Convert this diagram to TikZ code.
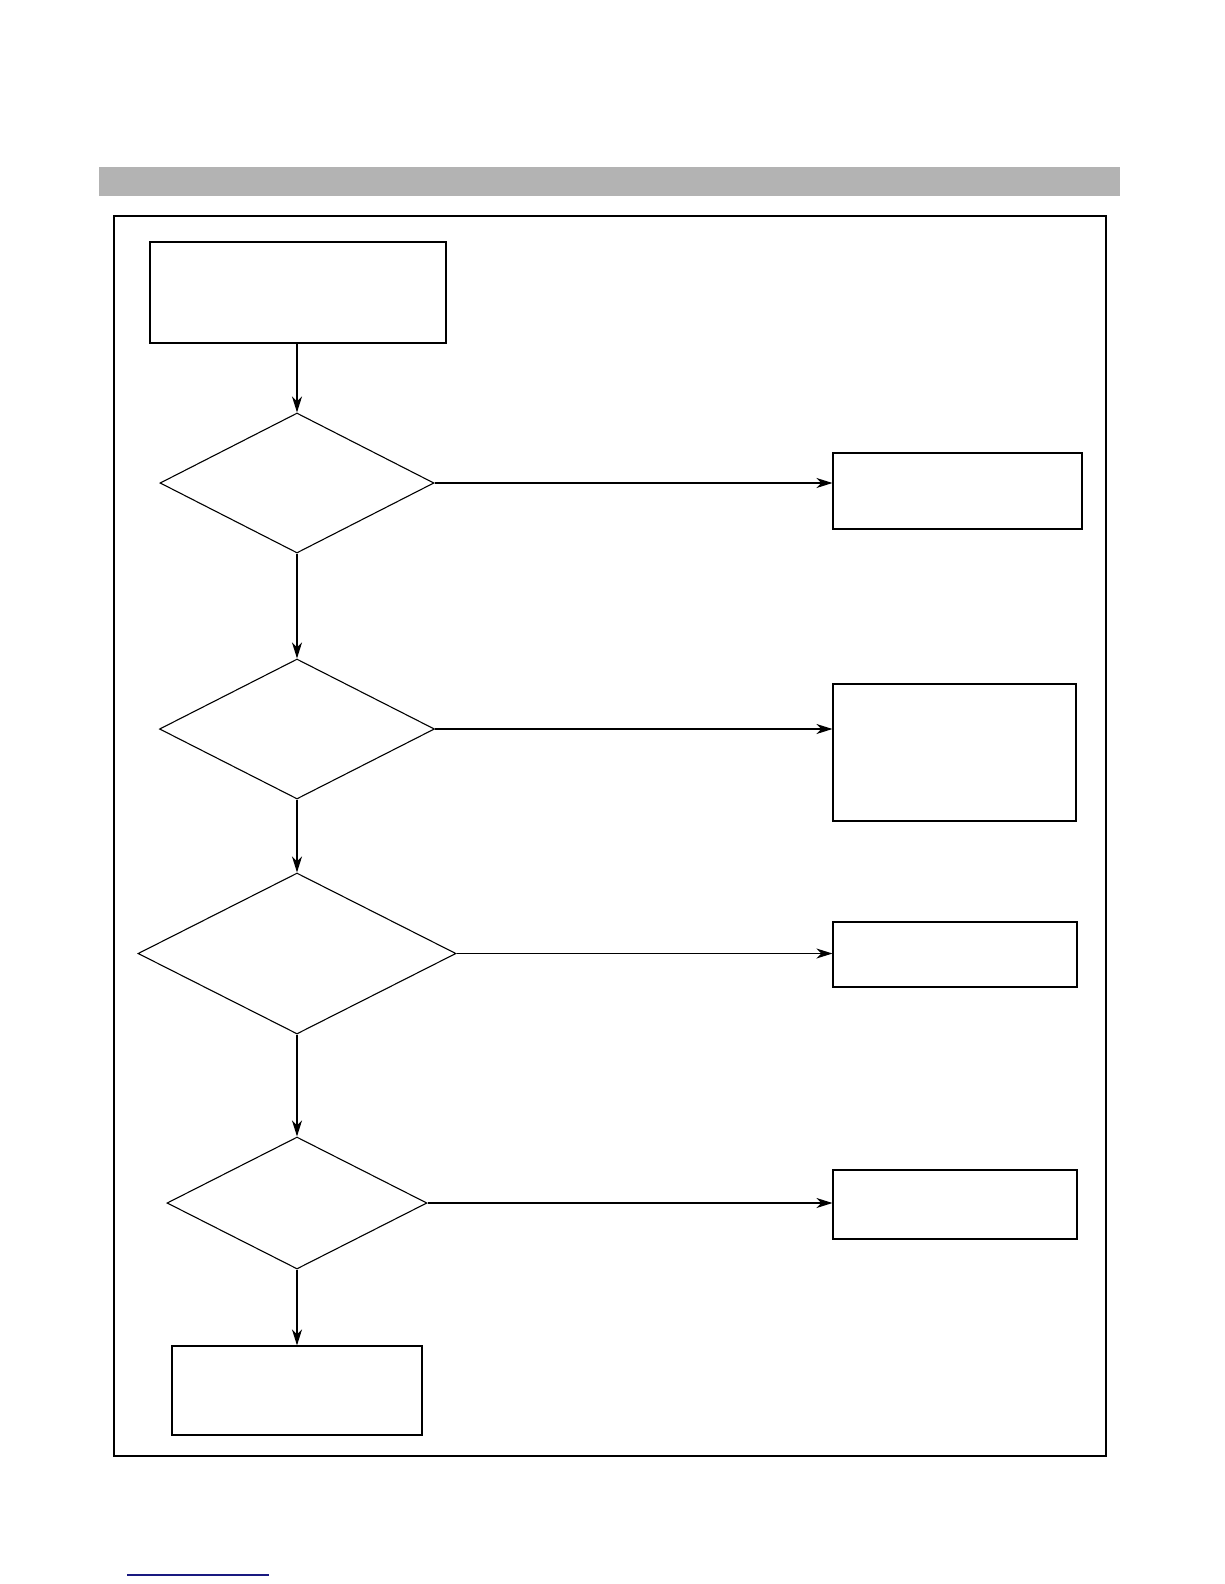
\documentclass[tikz,border=0pt]{standalone}
\usepackage{xcolor}
\usetikzlibrary{shapes, arrows.meta, positioning}
\definecolor{bargrey}{rgb}{0.702, 0.702, 0.702}
\definecolor{linkblue}{rgb}{0.1, 0.1, 0.5}
\begin{document}
\begin{tikzpicture}[x=1bp, y=-1bp, line width=1.1bp,
        >={Stealth[length=16bp, width=10bp, inset=5bp]},
        blk/.style = {draw, rectangle, inner sep=0pt},
        dec/.style = {draw, diamond, inner sep=0pt}]
        \useasboundingbox (0,0) rectangle (1224,1584);
        % header bar and frame
        \fill[bargrey] (99,167) rectangle (1120,196);
        \draw (114,216) rectangle (1106,1456);
        \draw[linkblue, line width=1.3bp] (127,1575) -- (269,1575);
        % left column
        \node[blk, minimum width=296bp, minimum height=101bp] (S) at (298,292.5) {};
        \node[dec, minimum width=274bp, minimum height=140bp] (D1) at (297,483) {};
        \node[dec, minimum width=275bp, minimum height=140bp] (D2) at (297,729) {};
        \node[dec, minimum width=318bp, minimum height=161bp] (D3) at (297,953.5) {};
        \node[dec, minimum width=260bp, minimum height=132bp] (D4) at (297,1203) {};
        \node[blk, minimum width=250bp, minimum height=89bp] (E) at (297,1390.5) {};
        % right column
        \node[blk, minimum width=249bp, minimum height=76bp] (B1) at (957.5,491) {};
        \node[blk, minimum width=243bp, minimum height=137bp] (B2) at (954.5,752.5) {};
        \node[blk, minimum width=244bp, minimum height=65bp] (B3) at (955,954.5) {};
        \node[blk, minimum width=244bp, minimum height=69bp] (B4) at (955,1204.5) {};
        \draw[->] (S.south -| D1.north) -- (D1.north);
        \draw[->] (D1.south) -- (D2.north);
        \draw[->] (D2.south) -- (D3.north);
        \draw[->] (D3.south) -- (D4.north);
        \draw[->] (D4.south) -- (D4.south |- E.north);
        \draw[->] (D1.east) -- (D1.east -| B1.west);
        \draw[->] (D2.east) -- (D2.east -| B2.west);
        \draw[->] (D3.east) -- (D3.east -| B3.west);
        \draw[->] (D4.east) -- (D4.east -| B4.west);
\end{tikzpicture}
\end{document}
